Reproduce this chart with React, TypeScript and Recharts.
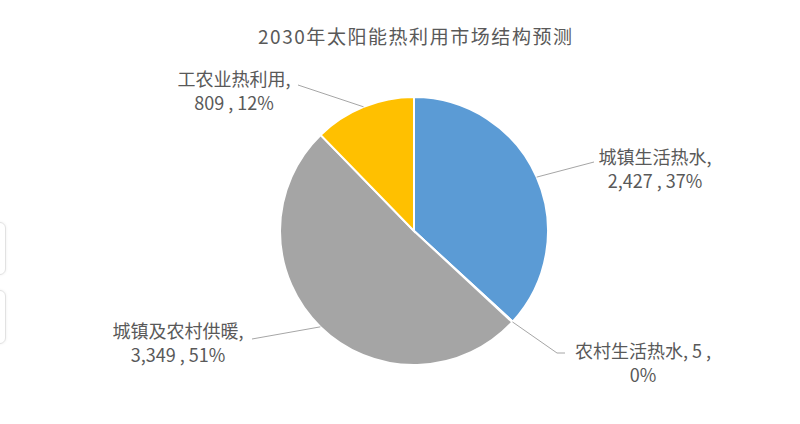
import { Cell, Pie, PieChart } from 'recharts';

const categories = ['城镇生活热水', '农村生活热水', '城镇及农村供暖', '工农业热利用'];
const values = [2427, 5, 3349, 809];
const colors = ['#5B9BD5', '#ED7D31', '#A5A5A5', '#FFC000'];

const TITLE = '2030年太阳能热利用市场结构预测';
const RADIAN = Math.PI / 180;
const total = values.reduce((a, b) => a + b, 0);

const data = categories.map((name, i) => ({ name, value: values[i] }));

// label boxes placed around the pie, offsets from the pie centre
const labelLayout = [
  { x: 241, y: -67, lineEnd: [180, -69], split: false },
  { x: 229, y: 127, lineEnd: [143, 122], bend: [151, 122], split: true },
  { x: -236, y: 107, lineEnd: [-162, 108], split: false },
  { x: -180, y: -145, lineEnd: [-116, -146], split: false },
];

const fmt = (v: number) => v.toLocaleString('en-US');

const renderLabel = (props: any) => {
  const { cx, cy, midAngle, outerRadius, index, value, name } = props;
  const layout = labelLayout[index];
  const sx = cx + outerRadius * Math.cos(-midAngle * RADIAN);
  const sy = cy + outerRadius * Math.sin(-midAngle * RADIAN);
  const pct = Math.round((value / total) * 100);
  const line1 = layout.split ? `${name}, ${fmt(value)} ,` : `${name},`;
  const line2 = layout.split ? `${pct}%` : `${fmt(value)} , ${pct}%`;
  const points = [[sx, sy], [cx + layout.lineEnd[0], cy + layout.lineEnd[1]]];
  if (layout.bend) points.push([cx + layout.bend[0], cy + layout.bend[1]]);
  return (
    <g key={`label-${index}`}>
      <polyline
        points={points.map((p) => p.join(',')).join(' ')}
        fill="none"
        stroke="#A6A6A6"
        strokeWidth={1}
      />
      <text
        x={cx + layout.x}
        y={cy + layout.y}
        textAnchor="middle"
        fill="#595959"
        fontSize={18}
        fontFamily="'Noto Sans CJK SC', 'Noto Sans', sans-serif"
      >
        <tspan x={cx + layout.x} dy={0}>{line1}</tspan>
        <tspan x={cx + layout.x} dy={24}>{line2}</tspan>
      </text>
    </g>
  );
};

const App = () => {
  return (
    <div style={{ position: 'absolute', left: 0, top: 0, width: 800, height: 424, background: '#fff', overflow: 'hidden' }}>
      <div style={{ position: 'absolute', left: -10, top: 222, width: 14, height: 51, border: '1px solid #e2e2e2', borderRadius: 6, boxShadow: '0 0 3px #eee' }} />
      <div style={{ position: 'absolute', left: -10, top: 290, width: 14, height: 52, border: '1px solid #e2e2e2', borderRadius: 6, boxShadow: '0 0 3px #eee' }} />
      <svg width={800} height={60} style={{ position: 'absolute', left: 0, top: 0 }}>
        <text
          x={258}
          y={44}
          fill="#595959"
          fontSize={19}
          textLength={314}
          lengthAdjust="spacing"
          fontFamily="'Noto Sans CJK SC', 'Noto Sans', sans-serif"
        >
          {TITLE}
        </text>
      </svg>
      <div style={{ position: 'absolute', left: 0, top: 0 }}>
        <PieChart width={800} height={424} margin={{ top: 0, right: 0, bottom: 0, left: 0 }}>
          <Pie
            data={data}
            dataKey="value"
            nameKey="name"
            cx={414}
            cy={231}
            outerRadius={134}
            startAngle={90}
            endAngle={-270}
            stroke="#fff"
            strokeWidth={2}
            label={renderLabel}
            labelLine={false}
            isAnimationActive={false}
          >
            {data.map((entry, i) => (
              <Cell key={entry.name} fill={colors[i]} />
            ))}
          </Pie>
        </PieChart>
      </div>
    </div>
  );
};

export default App;
